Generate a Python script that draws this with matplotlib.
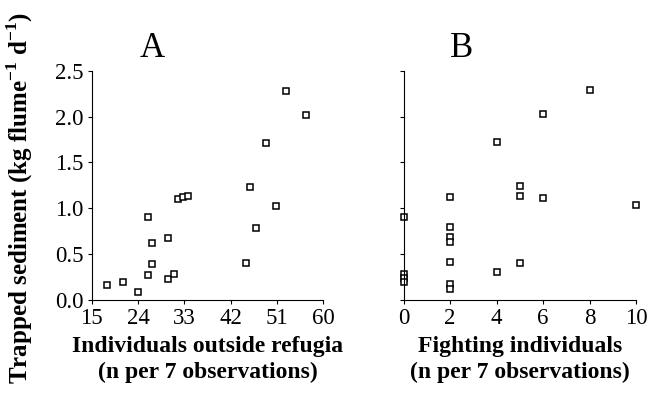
import matplotlib.pyplot as plt
import numpy as np

# panel A: individuals outside refugia vs trapped sediment
outside_x = [18, 21, 24, 25.9, 25.9, 26.8, 26.8, 29.8, 29.8, 31, 31.8, 32.8, 33.8,
             44.9, 45.8, 46.9, 48.8, 50.8, 52.7, 56.6]
outside_y = [0.16, 0.20, 0.09, 0.91, 0.27, 0.62, 0.39, 0.68, 0.23, 0.28, 1.10, 1.12, 1.13,
             0.40, 1.23, 0.79, 1.71, 1.03, 2.28, 2.02]

# panel B: fighting individuals vs trapped sediment
fight_x = [0, 0, 0, 0, 2, 2, 2, 2, 2, 2, 2, 4, 4, 5, 5, 5, 6, 6, 8, 10]
fight_y = [0.91, 0.28, 0.24, 0.20, 1.12, 0.80, 0.69, 0.63, 0.41, 0.17, 0.12,
           1.72, 0.30, 1.24, 1.13, 0.40, 2.03, 1.11, 2.29, 1.04]

xticks_a = [15, 24, 33, 42, 51, 60]
xticks_b = [0, 2, 4, 6, 8, 10]
yticks = [0.0, 0.5, 1.0, 1.5, 2.0, 2.5]

plt.rcParams['font.family'] = ['Liberation Serif', 'DejaVu Serif']
plt.rcParams['mathtext.fontset'] = 'custom'
plt.rcParams['mathtext.bf'] = 'Liberation Serif:bold'
plt.rcParams['mathtext.rm'] = 'Liberation Serif'

fs = 16.5

fig = plt.figure(figsize=(6.55, 4.0), dpi=100)
axA = fig.add_axes([0.140, 0.25, 0.3536, 0.573])
axB = fig.add_axes([0.6163, 0.25, 0.3547, 0.573])

for ax in (axA, axB):
    for s in ('top', 'right'):
        ax.spines[s].set_visible(False)
    for s in ('left', 'bottom'):
        ax.spines[s].set_linewidth(0.8)
    ax.tick_params(direction='out', length=3, width=0.8, labelsize=fs, pad=3)
    ax.set_ylim(0, 2.5)
    ax.set_yticks(yticks)

axA.plot(outside_x, outside_y, 's', ms=4.5, mfc='white', mec='black', mew=1.1, clip_on=False)
axA.set_xlim(15, 60)
axA.set_xticks(xticks_a)
axA.set_yticklabels(['%.1f' % v for v in yticks])
axA.set_xlabel('Individuals outside refugia\n(n per 7 observations)', fontsize=fs + 0.5,
               fontweight='bold', linespacing=1.3, labelpad=5)
axA.text(0.26, 1.06, 'A', transform=axA.transAxes, fontsize=25, ha='center', va='baseline')

axB.plot(fight_x, fight_y, 's', ms=4.5, mfc='white', mec='black', mew=1.1, clip_on=False)
axB.set_xlim(0, 10)
axB.set_xticks(xticks_b)
axB.set_yticklabels([])
axB.set_xlabel('Fighting individuals\n(n per 7 observations)', fontsize=fs + 0.5,
               fontweight='bold', linespacing=1.3, labelpad=5)
axB.text(0.25, 1.06, 'B', transform=axB.transAxes, fontsize=25, ha='center', va='baseline')

fig.text(0.03, 0.505, r'Trapped sediment (kg flume$^{\mathbf{-1}}$ d$^{\mathbf{-1}}$)',
         rotation=90, fontsize=18, fontweight='bold', ha='center', va='center')

plt.savefig('out.png', dpi=100)
